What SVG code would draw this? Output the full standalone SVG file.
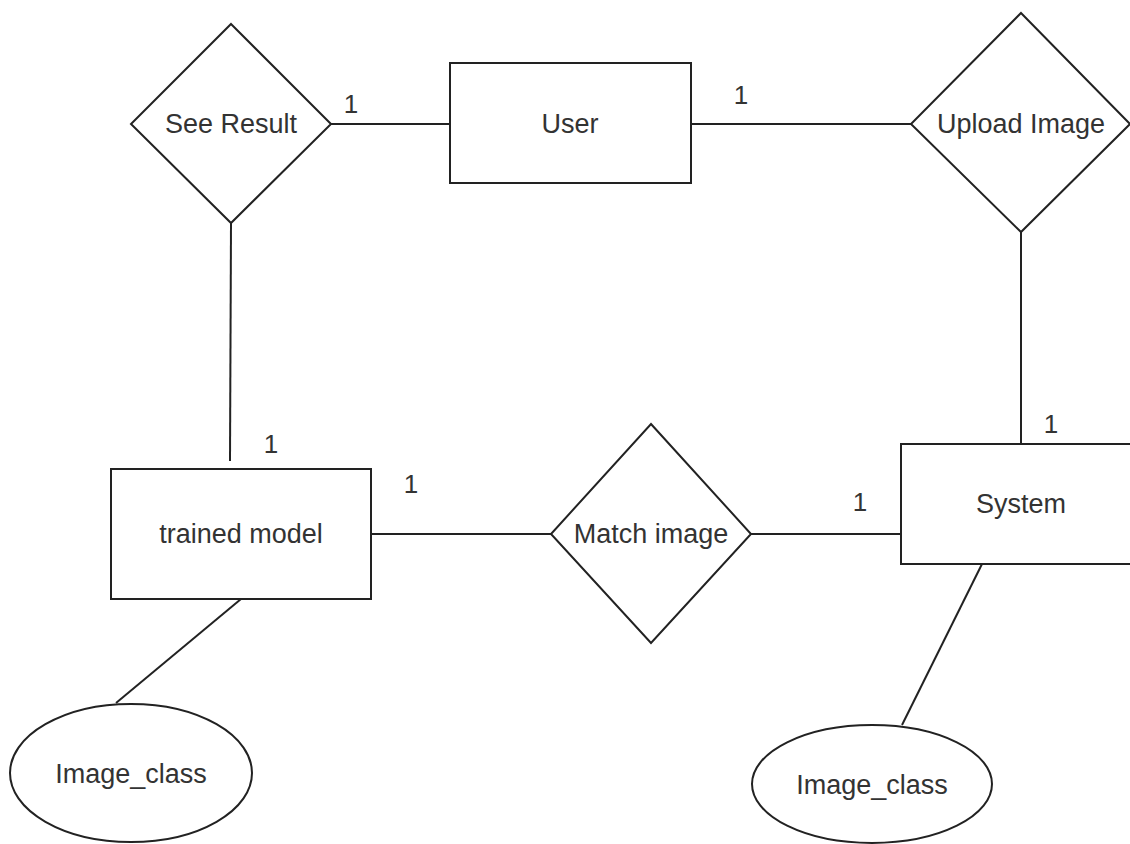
<svg xmlns="http://www.w3.org/2000/svg" width="1130" height="844" viewBox="0 0 1130 844">
<style>
.shape{fill:#fff;stroke:#222;stroke-width:2}
.edge{fill:none;stroke:#222;stroke-width:2}
text{font-family:"Liberation Sans",Arial,sans-serif;font-size:27px;fill:#333;text-anchor:middle}
.card{font-size:26px}
</style>
<rect width="1130" height="844" fill="#fff"/>
<g id="connectors">
<line class="edge" x1="331" y1="124" x2="450" y2="124"/>
<line class="edge" x1="691" y1="124" x2="911" y2="124"/>
<line class="edge" x1="231" y1="223" x2="230" y2="461"/>
<line class="edge" x1="1021" y1="232" x2="1021" y2="444"/>
<line class="edge" x1="371" y1="534" x2="551" y2="534"/>
<line class="edge" x1="751" y1="534" x2="901" y2="534"/>
<line class="edge" x1="241" y1="599" x2="116" y2="703"/>
<line class="edge" x1="982" y1="564" x2="902" y2="725"/>
<text class="card" x="351" y="113">1</text>
<text class="card" x="741" y="104">1</text>
<text class="card" x="271" y="453">1</text>
<text class="card" x="411" y="493">1</text>
<text class="card" x="860" y="511">1</text>
<text class="card" x="1051" y="433">1</text>
</g>
<g id="see-result">
<polygon class="shape" points="231,24 331,124 231,223 131,124"/>
<text x="231" y="133">See Result</text>
</g>
<g id="user">
<rect class="shape" x="450" y="63" width="241" height="120"/>
<text x="570" y="133">User</text>
</g>
<g id="upload-image">
<polygon class="shape" points="1021,13 1130,124 1021,232 911,124"/>
<text x="1021" y="133">Upload Image</text>
</g>
<g id="trained-model">
<rect class="shape" x="111" y="469" width="260" height="130"/>
<text x="241" y="543">trained model</text>
</g>
<g id="match-image">
<polygon class="shape" points="651,424 751,534 651,643 551,534"/>
<text x="651" y="543">Match image</text>
</g>
<g id="system">
<rect class="shape" x="901" y="444" width="240" height="120"/>
<text x="1021" y="513">System</text>
</g>
<g id="image-class-left">
<ellipse class="shape" cx="131" cy="773" rx="121" ry="69"/>
<text x="131" y="783">Image_class</text>
</g>
<g id="image-class-right">
<ellipse class="shape" cx="872" cy="784" rx="120" ry="59"/>
<text x="872" y="794">Image_class</text>
</g>
</svg>
